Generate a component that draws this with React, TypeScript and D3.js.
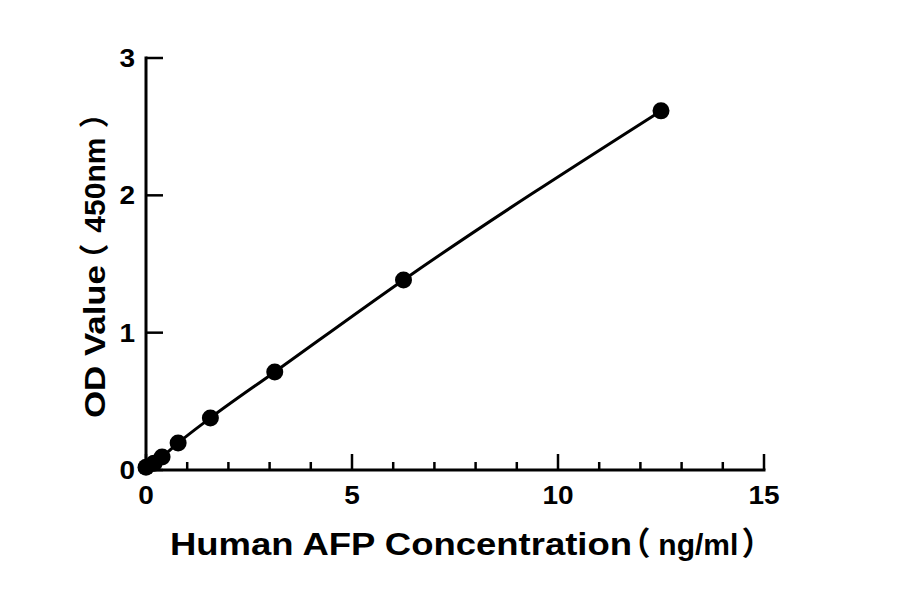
import React from 'react';
import * as d3 from 'd3';

// standard curve: concentration (ng/ml) vs OD at 450nm
const concentrations = [0, 0.195, 0.39, 0.78, 1.5625, 3.125, 6.25, 12.5];
const odValues = [0.02, 0.05, 0.095, 0.197, 0.379, 0.714, 1.384, 2.615];

const xMajorTicks = [0, 5, 10, 15];
const xMinorTicks = [1, 2, 3, 4, 6, 7, 8, 9, 11, 12, 13, 14];
const yMajorTicks = [0, 1, 2, 3];

const xTitleParts = ['Human AFP Concentration', '（', ' ng/ml', '）'];
const yTitleParts = ['OD Value', '（', ' 450nm', '）'];

const WIDTH = 900;
const HEIGHT = 594;
const FONT = '"Liberation Sans", Arial, "Noto Sans CJK SC", sans-serif';
const STRETCH = 1.12; // reference glyphs are a bit wider than Arial

const App: React.FC = () => {
  const x = d3.scaleLinear().domain([0, 15]).range([146, 764]);
  const y = d3.scaleLinear().domain([0, 3]).range([470, 58]);

  const points = concentrations.map((c, i) => ({ c, od: odValues[i] }));
  const line = d3.line<{ c: number; od: number }>()
    .x(d => x(d.c))
    .y(d => y(d.od))
    .curve(d3.curveMonotoneX);

  const x0 = x(0);
  const y0 = y(0);
  const titleStyle = { fontFeatureSettings: '"palt"', whiteSpace: 'pre' as const };

  return (
    <svg width={WIDTH} height={HEIGHT} style={{ position: 'absolute', left: 0, top: 0, background: '#fff' }}>
      {/* fit line */}
      <path d={line(points) || ''} fill="none" stroke="#000" strokeWidth={3} />
      {points.map((p, i) => (
        <circle key={i} cx={x(p.c)} cy={y(p.od)} r={8.5} fill="#000" />
      ))}

      {/* x axis */}
      <line x1={x0 - 1.5} x2={x(15) + 1.5} y1={y0} y2={y0} stroke="#000" strokeWidth={3} />
      {xMajorTicks.map(t => (
        <g key={'xm' + t}>
          <line x1={x(t)} x2={x(t)} y1={y0} y2={y0 - 16} stroke="#000" strokeWidth={2.5} />
          <text transform={`translate(${x(t)},504) scale(${STRETCH},1)`} textAnchor="middle"
            fontFamily={FONT} fontWeight="bold" fontSize={25}>{t}</text>
        </g>
      ))}
      {xMinorTicks.map(t => (
        <line key={'xn' + t} x1={x(t)} x2={x(t)} y1={y0} y2={y0 - 8} stroke="#000" strokeWidth={2.5} />
      ))}

      {/* y axis */}
      <line x1={x0} x2={x0} y1={y(3) - 1.5} y2={y0 + 1.5} stroke="#000" strokeWidth={3} />
      {yMajorTicks.map(t => (
        <g key={'ym' + t}>
          <line x1={x0} x2={x0 + 17} y1={y(t)} y2={y(t)} stroke="#000" strokeWidth={2.5} />
          <text transform={`translate(135,${y(t) + 9}) scale(${STRETCH},1)`} textAnchor="end"
            fontFamily={FONT} fontWeight="bold" fontSize={25}>{t}</text>
        </g>
      ))}

      {/* axis titles */}
      <text y={555} fontFamily={FONT} fontWeight="bold" fontSize={32} style={titleStyle}>
        <tspan x={170} textLength={462} lengthAdjust="spacingAndGlyphs">{xTitleParts[0]}</tspan>
        <tspan x={633}>{xTitleParts[1]}</tspan>
        <tspan x={650} fontSize={30}>{xTitleParts[2]}</tspan>
        <tspan x={743}>{xTitleParts[3]}</tspan>
      </text>
      <text transform="translate(105,0) rotate(-90)" y={0} fontFamily={FONT} fontWeight="bold" fontSize={30} style={titleStyle}>
        <tspan x={-418} textLength={153} lengthAdjust="spacingAndGlyphs">{yTitleParts[0]}</tspan>
        <tspan x={-260}>{yTitleParts[1]}</tspan>
        <tspan x={-241}>{yTitleParts[2]}</tspan>
        <tspan x={-127}>{yTitleParts[3]}</tspan>
      </text>
    </svg>
  );
};

export default App;
